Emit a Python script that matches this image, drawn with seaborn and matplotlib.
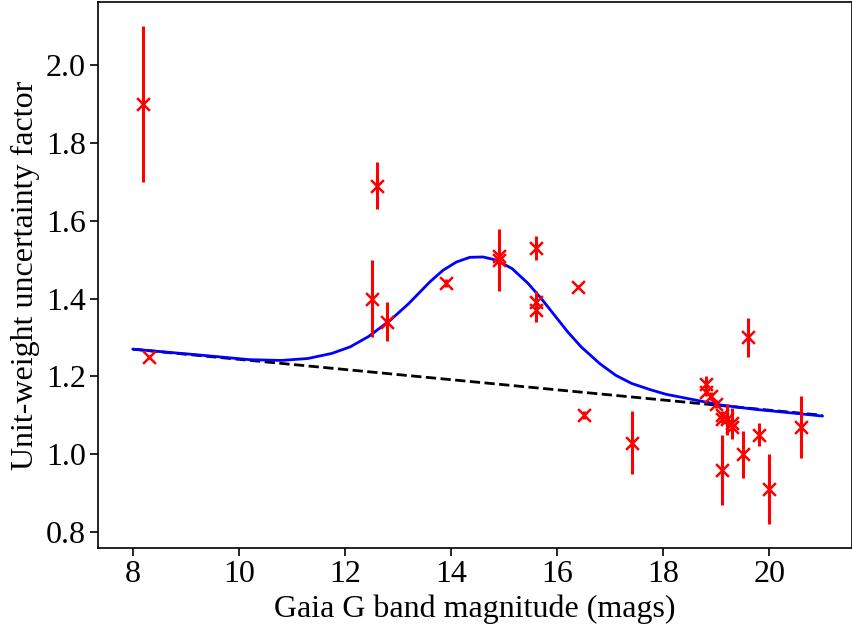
import matplotlib
matplotlib.use("Agg")
import matplotlib.pyplot as plt
import seaborn as sns
import pandas as pd
import numpy as np

# Observed points
mag = [8.2, 8.3, 12.5, 12.6, 12.8, 13.9, 14.9, 14.9, 15.6, 15.6, 15.6, 16.4, 16.5,
       17.4, 18.8, 18.8, 18.9, 19.0, 19.1, 19.1, 19.2, 19.3, 19.3, 19.1, 19.5, 19.6,
       19.8, 20.0, 20.6]
factor = [1.90, 1.25, 1.40, 1.69, 1.34, 1.44, 1.51, 1.50, 1.53, 1.39, 1.37, 1.43, 1.10,
          1.03, 1.18, 1.16, 1.15, 1.13, 1.10, 1.09, 1.09, 1.08, 1.07, 0.96, 1.00, 1.30,
          1.05, 0.91, 1.07]
err = [0.20, 0.005, 0.10, 0.06, 0.05, 0.01, 0.02, 0.08, 0.03, 0.03, 0.03, 0.005, 0.01,
       0.08, 0.02, 0.01, 0.01, 0.01, 0.01, 0.01, 0.04, 0.04, 0.02, 0.09, 0.06, 0.05,
       0.03, 0.09, 0.08]

# Model curve (blue)
curve_x = [8.0, 9.25, 10.2, 10.8, 11.3, 11.75, 12.1, 12.45, 12.85, 13.2, 13.6, 13.85,
           14.1, 14.35, 14.6, 14.85, 15.15, 15.45, 15.7, 15.95, 16.2, 16.45, 16.8,
           17.1, 17.4, 17.75, 18.05, 18.35, 19.1, 19.75, 20.35, 21.0]
curve_y = [1.270, 1.255, 1.243, 1.241, 1.246, 1.259, 1.276, 1.303, 1.344, 1.387, 1.443,
           1.473, 1.494, 1.506, 1.507, 1.499, 1.477, 1.439, 1.400, 1.357, 1.314, 1.276,
           1.233, 1.203, 1.182, 1.166, 1.154, 1.146, 1.126, 1.115, 1.107, 1.098]

# Baseline (black dashed)
base_x = [8.0, 21.0]
base_y = [1.27, 1.10]

xticks = [8, 10, 12, 14, 16, 18, 20]
yticks = [0.8, 1.0, 1.2, 1.4, 1.6, 1.8, 2.0]

sns.set_theme(style="ticks")
plt.rcParams['font.family'] = ['Liberation Serif', 'DejaVu Serif']
plt.rcParams['mathtext.fontset'] = 'stix'
plt.rcParams['text.color'] = 'black'
plt.rcParams['axes.labelcolor'] = 'black'
plt.rcParams['xtick.color'] = 'black'
plt.rcParams['ytick.color'] = 'black'

fig = plt.figure(figsize=(8.53, 6.32), dpi=100)
ax = fig.add_axes([0.1152, 0.133, 0.8833, 0.8636])

df_pts = pd.DataFrame({"mag": mag, "factor": factor, "err": err})
df_curve = pd.DataFrame({"mag": curve_x, "factor": curve_y})
df_base = pd.DataFrame({"mag": base_x, "factor": base_y})

sns.lineplot(data=df_base, x="mag", y="factor", ax=ax, color="black", lw=2,
             linestyle="--", zorder=2)
sns.lineplot(data=df_curve, x="mag", y="factor", ax=ax, color="blue", lw=2, zorder=3)
ax.errorbar(df_pts["mag"], df_pts["factor"], yerr=df_pts["err"], fmt="none",
            ecolor="red", elinewidth=2.2, capsize=0, zorder=4)
sns.scatterplot(data=df_pts, x="mag", y="factor", ax=ax, marker="x", color="red",
                s=85, linewidth=1.8, zorder=5)

ax.set_xlim(7.35, 21.55)
ax.set_ylim(0.759, 2.162)
ax.set_xticks(xticks)
ax.set_yticks(yticks)
ax.set_yticklabels([f"{v:.1f}" for v in yticks])
ax.tick_params(axis="both", labelsize=23, length=5.5, width=1.2, direction="out",
               colors="black", labelcolor="black")
for s in ax.spines.values():
    s.set_visible(True)
    s.set_linewidth(1.2)
    s.set_color("black")
ax.set_xlabel("Gaia G band magnitude (mags)", fontsize=23, color="black")
ax.set_ylabel("Unit-weight uncertainty factor", fontsize=23, color="black")

fig.savefig("out.png", dpi=100)
